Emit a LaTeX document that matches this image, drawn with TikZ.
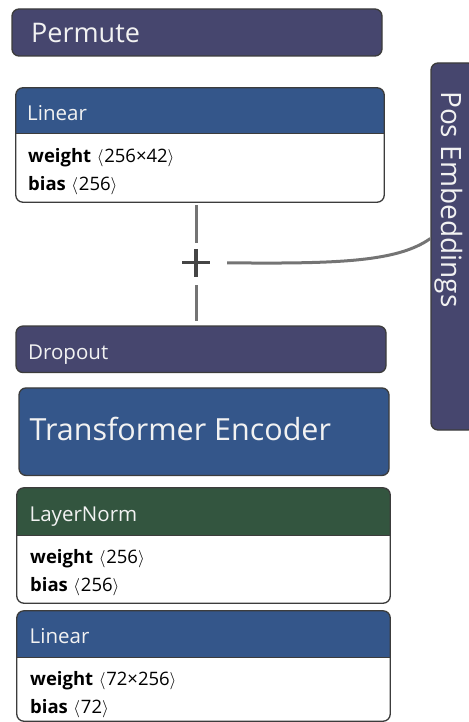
\documentclass[tikz,border=0pt]{standalone}
\usepackage{fontspec}
\setmainfont{Open Sans}
\usetikzlibrary{calc}

\definecolor{modpurple}{HTML}{46466E}
\definecolor{modblue}{HTML}{34568A}
\definecolor{modgreen}{HTML}{33553F}
\definecolor{edgegrey}{HTML}{3C3C3C}
\definecolor{wiregrey}{HTML}{747474}
\definecolor{plusgrey}{HTML}{454545}
\definecolor{labelwhite}{HTML}{F2F2F2}

\tikzset{
  edge/.style={draw=edgegrey, line width=1.3pt},
  flatbox/.style={edge, rounded corners=7pt, inner sep=0pt},
  card/.style={fill=white, rounded corners=7pt, inner sep=0pt},
  title/.style={text=labelwhite, inner sep=0pt, anchor=base west},
  param/.style={text=black, inner sep=0pt, anchor=base west, font=\fontsize{18.5}{21}\selectfont},
  wire/.style={draw=wiregrey, line width=3pt},
}

% header band of a parameter card, clipped to the card's rounded outline
\newcommand\cardhead[3]{%
  \begin{scope}
    \clip[rounded corners=7pt] (#1.north west) rectangle (#1.south east);
    \fill[#3] (#1.north west) rectangle ([yshift=-#2]#1.north east);
    \draw[edge] ([yshift=-#2]#1.north west) -- ([yshift=-#2]#1.north east);
  \end{scope}
  \draw[edge, rounded corners=7pt] (#1.north west) rectangle (#1.south east);
}

% parameter name and its shape in angle brackets
\newcommand\prm[2]{\textbf{#1}\hspace{5.5pt}\(\langle\)\hspace{0.8pt}#2\(\rangle\)}

\begin{document}
\begin{tikzpicture}[x=1pt, y=-1pt]
\useasboundingbox (0,0) rectangle (468,722);

% Permute
\node[flatbox, fill=modpurple, minimum width=370pt, minimum height=47pt] (permute) at (197,32.5) {};
\node[title, font=\fontsize{27}{30}\selectfont] (permutet) at (31,42.6) {Permute};

% Pos Embeddings (runs off the right edge)
\node[flatbox, fill=modpurple, minimum width=44pt, minimum height=367pt] (posemb) at (453,246.5) {};
\node[title, rotate=-90, font=\fontsize{28}{30}\selectfont] (posembt) at (441.5,91) {Pos Embeddings};

% Linear (input projection)
\node[card, minimum width=368pt, minimum height=114pt] (lin1) at (200,145) {};
\cardhead{lin1}{46pt}{modblue}
\node[title, font=\fontsize{20.5}{24}\selectfont] (lin1t) at (27,120.7) {Linear};
\node[param] (lin1w) at (28,162.5) {\prm{weight}{256×42}};
\node[param] (lin1b) at (28,190) {\prm{bias}{256}};

% addition of the positional embeddings
\node[minimum size=28pt, inner sep=0pt,
  path picture={
    \draw[plusgrey, line width=3.2pt]
      (path picture bounding box.west) -- (path picture bounding box.east)
      (path picture bounding box.north) -- (path picture bounding box.south);
  }] (plus) at (196,262.8) {};

\draw[wire] (plus |- lin1.south) ++(0,3) coordinate (lin1out) -- ([yshift=6pt]plus.north);

% Dropout
\node[flatbox, fill=modpurple, minimum width=370pt, minimum height=46.5pt] (dropout) at (201,349.3) {};
\node[title, font=\fontsize{20.5}{24}\selectfont] (dropoutt) at (28,359) {Dropout};

\draw[wire] ([yshift=-8pt]plus.south) -- ([yshift=4pt]plus |- dropout.north);

\draw[wire] ([xshift=17pt]plus.east) .. controls (340,264) and (398,261.5) .. ([yshift=8pt]posemb.west);

% Transformer Encoder
\node[flatbox, fill=modblue, minimum width=370pt, minimum height=87.5pt] (encoder) at (204,431.7) {};
\node[title, font=\fontsize{30.5}{34}\selectfont] (encodert) at (29.5,440) {Transformer Encoder};

% LayerNorm
\node[card, minimum width=373pt, minimum height=115pt] (norm) at (203.5,545.5) {};
\cardhead{norm}{48pt}{modgreen}
\node[title, font=\fontsize{20.5}{24}\selectfont] (normt) at (29.5,521.7) {LayerNorm};
\node[param] (normw) at (30,563) {\prm{weight}{256}};
\node[param] (normb) at (30,591) {\prm{bias}{256}};

% Linear (output head)
\node[card, minimum width=373pt, minimum height=110pt] (lin2) at (203.5,666) {};
\cardhead{lin2}{47pt}{modblue}
\node[title, font=\fontsize{20.5}{24}\selectfont] (lin2t) at (29.5,643.3) {Linear};
\node[param] (lin2w) at (30,685) {\prm{weight}{72×256}};
\node[param] (lin2b) at (30,713) {\prm{bias}{72}};
\end{tikzpicture}
\end{document}
